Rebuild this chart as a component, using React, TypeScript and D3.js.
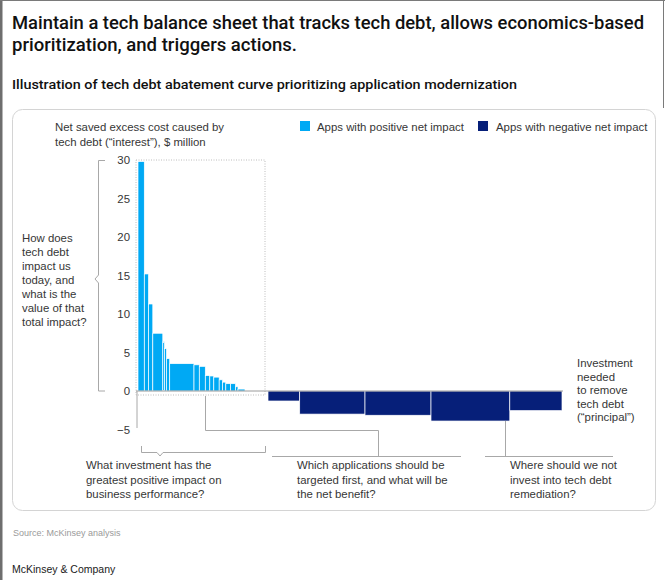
import React from "react";
import * as d3 from "d3";

// ---------- data ----------
const titleLines = [
  "Maintain a tech balance sheet that tracks tech debt, allows economics-based",
  "prioritization, and triggers actions.",
];
const subtitle =
  "Illustration of tech debt abatement curve prioritizing application modernization";
const yAxisTitle = ["Net saved excess cost caused by", "tech debt (\u201cinterest\u201d), $ million"];
const legendLabels = ["Apps with positive net impact", "Apps with negative net impact"];
const yTicks = [30, 25, 20, 15, 10, 5, 0, -5];

// investment (bar width, relative units) and net impact ($ million) per application
const appWidths = [
  6.3, 4.2, 4.3, 10, 1.7, 2, 3.2, 24.3, 5.3, 6, 4.5, 4, 5.4, 3.3, 3.3, 4.7, 5, 2.5, 7, 23,
  31.7, 65.3, 66, 78.8, 52.2,
];
const appImpacts = [
  29.8, 15.2, 11.3, 7.5, 6.4, 5.5, 4.2, 3.55, 3.4, 3.2, 2.0, 1.95, 1.8, 1.45, 1.15, 0.95, 0.95,
  0.55, 0.25, 0, -1.3, -3.0, -3.15, -3.9, -2.55,
];

const leftQuestion = [
  "How does",
  "tech debt",
  "impact us",
  "today, and",
  "what is the",
  "value of that",
  "total impact?",
];
const question1 = ["What investment has the", "greatest positive impact on", "business performance?"];
const question2 = ["Which applications should be", "targeted first, and what will be", "the net benefit?"];
const question3 = ["Where should we not", "invest into tech debt", "remediation?"];
const rightLabel = ["Investment", "needed", "to remove", "tech debt", "(\u201cprincipal\u201d)"];
const sourceText = "Source: McKinsey analysis";
const brandText = "McKinsey & Company";

// ---------- styles ----------
const POS = "#00a9f4";
const NEG = "#061f79";
const FONT = "'Liberation Sans', Arial, sans-serif";
const TXT = "#363636";

export default function App() {
  const W = 665;
  const H = 580;

  const total = d3.sum(appWidths);
  const x = d3.scaleLinear().domain([0, total]).range([138, 562]);
  const y = d3.scaleLinear().domain([-5, 30]).range([429.5, 160]);
  const starts = [0, ...Array.from(d3.cumsum(appWidths))].slice(0, appWidths.length);

  const lines = (arr: string[], x0: number, y0: number, dy: number, size = 11.4, fill = TXT, anchor = "start") =>
    arr.map((t, i) => (
      <text key={i} x={x0} y={y0 + i * dy} fontSize={size} fill={fill} textAnchor={anchor as any} fontFamily={FONT}>
        {t}
      </text>
    ));

  const y0 = y(0);
  const lineCol = "#a8a8a8";

  return (
    <div style={{ position: "absolute", left: 0, top: 0 }}>
      <svg width={W} height={H} style={{ display: "block", background: "#fff" }}>
        {/* frame */}
        <rect x={0} y={0} width={2.5} height={H} fill="#6e6e6e" />
        <line x1={0} x2={W} y1={0.5} y2={0.5} stroke="#7a7a7a" />
        <line x1={W - 1.5} x2={W - 1.5} y1={0} y2={108} stroke="#7a7a7a" />

        {/* titles */}
        {titleLines.map((t, i) => (
          <text
            key={i}
            x={12}
            y={29 + i * 22}
            fontSize={18}
            fontWeight={500}
            fill="#111"
            fontFamily="Roboto, 'Liberation Sans', sans-serif"
            textLength={i === 0 ? 632 : 285}
            lengthAdjust="spacingAndGlyphs"
          >
            {t}
          </text>
        ))}
        <text
          x={12}
          y={89}
          fontSize={12.8}
          fontWeight={500}
          fill="#111"
          fontFamily="Roboto, 'Liberation Sans', sans-serif"
          textLength={505}
          lengthAdjust="spacingAndGlyphs"
        >
          {subtitle}
        </text>

        {/* chart box */}
        <rect x={12.5} y={109.5} width={643} height={401} rx={10} fill="none" stroke="#d4d4d4" />

        {/* y axis title */}
        {lines(yAxisTitle, 55, 131, 15)}

        {/* legend */}
        <rect x={300} y={121} width={10} height={10} fill={POS} />
        <text x={317} y={131} fontSize={11.4} fill={TXT} fontFamily={FONT}>
          {legendLabels[0]}
        </text>
        <rect x={478} y={121} width={10} height={10} fill={NEG} />
        <text x={496} y={131} fontSize={11.4} fill={TXT} fontFamily={FONT}>
          {legendLabels[1]}
        </text>

        {/* y tick labels */}
        {yTicks.map((t) => (
          <text key={t} x={130} y={y(t) + 4} fontSize={11.4} fill={TXT} textAnchor="end" fontFamily={FONT}>
            {t < 0 ? "\u2212" + Math.abs(t) : t}
          </text>
        ))}

        {/* dotted box around positive apps */}
        <rect
          x={136}
          y={y(30)}
          width={129}
          height={395 - y(30)}
          fill="none"
          stroke="#bdbdbd"
          strokeDasharray="1 1.5"
        />

        {/* bars */}
        {appImpacts.map((v, i) => {
          if (v === 0) return null;
          const x1 = x(starts[i]);
          const x2 = x(starts[i] + appWidths[i]);
          return (
            <rect
              key={i}
              x={x1}
              width={x2 - x1}
              y={y(Math.max(0, v))}
              height={Math.abs(y(v) - y0)}
              fill={v > 0 ? POS : NEG}
              stroke="#fff"
              strokeWidth={0.7}
            />
          );
        })}

        {/* zero line */}
        <line x1={136} x2={563} y1={y0} y2={y0} stroke="#9a9a9a" />
        {/* axis below zero */}
        <line x1={137} x2={137} y1={y0} y2={428} stroke={lineCol} />

        {/* left bracket */}
        <path
          d={`M105,${y(30) + 0.5} H98.5 V${279 - 4} L95,279 L98.5,${279 + 4} V${y0} H105`}
          fill="none"
          stroke={lineCol}
        />
        {lines(leftQuestion, 22, 242, 14)}

        {/* bottom bracket */}
        <path d="M141.5,446 V452.5 H157 L160,456 L163,452.5 H265.5 V446" fill="none" stroke={lineCol} />
        {lines(question1, 86, 469, 14.5)}

        {/* connector to question 2 */}
        <path d="M205.5,396 V430.5 H378.5 V456" fill="none" stroke={lineCol} />
        <line x1={272} x2={461} y1={456.5} y2={456.5} stroke={lineCol} />
        {lines(question2, 297, 469, 14.5)}

        {/* connector to question 3 */}
        <line x1={505.5} x2={505.5} y1={y(-3.9)} y2={456} stroke={lineCol} />
        <line x1={485} x2={613} y1={456.5} y2={456.5} stroke={lineCol} />
        {lines(question3, 510, 469, 14.5)}

        {/* right label */}
        {lines(rightLabel, 577, 367, 13.6)}

        {/* footer */}
        <text x={13} y={536} fontSize={9} fill="#9a9a9a" fontFamily={FONT}>
          {sourceText}
        </text>
        <text x={12} y={573} fontSize={10.5} fill="#1a1a1a" fontFamily={FONT}>
          {brandText}
        </text>
      </svg>
    </div>
  );
}
